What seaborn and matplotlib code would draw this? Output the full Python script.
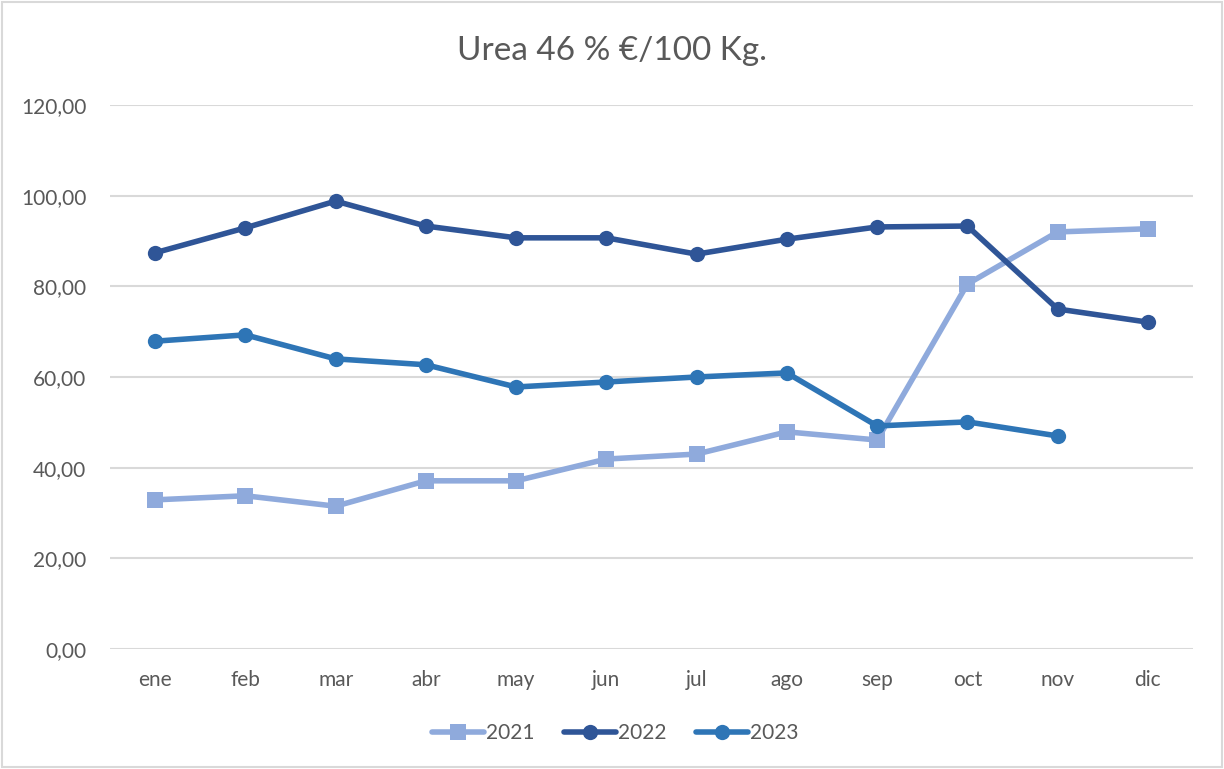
import matplotlib
matplotlib.use("Agg")
import matplotlib.pyplot as plt
import seaborn as sns
import pandas as pd
from matplotlib.ticker import FuncFormatter, MultipleLocator
from matplotlib.patches import Rectangle

# data
meses = ["ene", "feb", "mar", "abr", "may", "jun", "jul", "ago", "sep", "oct", "nov", "dic"]
v2021 = [32.9, 33.8, 31.5, 37.1, 37.1, 41.9, 43.0, 47.9, 46.1, 80.5, 92.0, 92.7]
v2022 = [87.4, 92.9, 98.8, 93.3, 90.7, 90.7, 87.1, 90.4, 93.1, 93.3, 75.0, 72.1]
v2023 = [67.9, 69.3, 64.0, 62.7, 57.8, 58.9, 60.0, 60.9, 49.2, 50.1, 47.0]

years = ["2021", "2022", "2023"]
colores = {"2021": "#8FAADC", "2022": "#2F5597", "2023": "#2E75B6"}
marcas = {"2021": "s", "2022": "o", "2023": "o"}

sns.set_style("white")
plt.rcParams["font.family"] = ["Lato", "DejaVu Sans"]
txt = "#595959"

df = pd.concat([
    pd.DataFrame({"mes": meses[:len(v)], "x": range(len(v)), "valor": v, "year": y})
    for y, v in zip(years, [v2021, v2022, v2023])
])

fig = plt.figure(figsize=(12.24, 7.69), dpi=100)
ax = fig.add_axes([110 / 1224, 1 - 649 / 769, (1193 - 110) / 1224, (649 - 105) / 769])

sns.lineplot(data=df, x="x", y="valor", hue="year", style="year",
             palette=colores, markers=marcas, dashes=False,
             linewidth=4, markersize=11, markeredgewidth=0, ax=ax,
             legend=False, sort=False)

ax.set_xlim(-0.5, 11.5)
ax.set_ylim(0, 120)
ax.yaxis.set_major_locator(MultipleLocator(20))
ax.yaxis.set_major_formatter(FuncFormatter(lambda v, p: f"{v:.2f}".replace(".", ",")))
ax.set_xticks(range(len(meses)))
ax.set_xticklabels(meses)
ax.grid(axis="y", color="#D9D9D9", linewidth=1.5)
ax.set_axisbelow(True)
for s in ax.spines.values():
    s.set_visible(False)
ax.tick_params(axis="both", length=0, labelsize=15, colors=txt)
ax.tick_params(axis="y", pad=17)
ax.tick_params(axis="x", pad=15)
ax.set_xlabel("")
ax.set_ylabel("")

fig.text(0.5, 1 - 51 / 769, "Urea 46 % €/100 Kg.", ha="center", va="center",
         fontsize=24, color=txt)

handles = [plt.Line2D([], [], color=colores[y], marker=marcas[y], linewidth=4,
                      markersize=11, markeredgewidth=0) for y in years]
fig.legend(handles, years, loc="center", bbox_to_anchor=(615 / 1224, 1 - 733 / 769),
           ncol=3, frameon=False, fontsize=15, labelcolor=txt, handlelength=2.5,
           handletextpad=0.1, columnspacing=1.4)

fig.patches.append(Rectangle((0.002, 0.002), 0.996, 0.996, transform=fig.transFigure,
                             fill=False, edgecolor="#D9D9D9", linewidth=1.5))

fig.savefig("out.png", dpi=100)
